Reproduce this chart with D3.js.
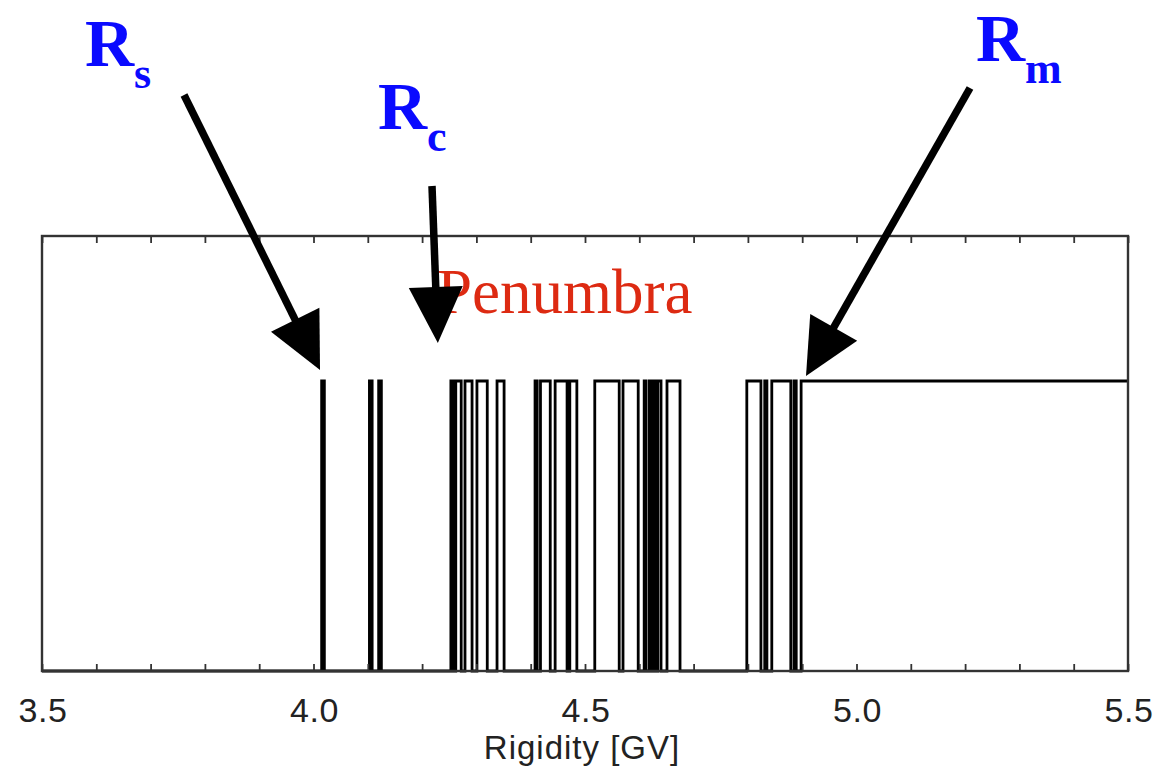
<!DOCTYPE html>
<html>
<head>
<meta charset="utf-8">
<script src="https://cdn.jsdelivr.net/npm/d3@7"></script>
<style>
  html, body { margin: 0; padding: 0; background: #fff; }
  svg { display: block; }
</style>
</head>
<body>
<svg id="chart" width="1156" height="773"></svg>
<script>
// Rigidity axis
const xDomain = [3.5, 5.5];
const tickLabels = [3.5, 4.0, 4.5, 5.0, 5.5];
const minorTicks = d3.range(35, 56).map(d => d / 10);

// Allowed (1) bands of the trajectory scan; everything else is forbidden (0)
const bandStart = [4.015, 4.103, 4.120, 4.253, 4.262, 4.279, 4.301, 4.338,
                   4.408, 4.418, 4.445, 4.472, 4.518, 4.570, 4.609, 4.618, 4.625, 4.634, 4.651,
                   4.798, 4.831, 4.844, 4.885, 4.898];
const bandEnd   = [4.020, 4.108, 4.125, 4.258, 4.272, 4.292, 4.320, 4.351,
                   4.412, 4.436, 4.467, 4.485, 4.563, 4.598, 4.612, 4.621, 4.629, 4.640, 4.675,
                   4.824, 4.835, 4.879, 4.889, 5.5];

// Cutoff markers: lower (Rs), effective (Rc), upper (Rm)
const cutoffNames = ["s", "c", "m"];
const cutoffValues = [4.012, 4.229, 4.907];

const svg = d3.select("#chart");
const margin = { left: 42, right: 28, top: 236, bottom: 102 };
const W = 1156, H = 773;
const x = d3.scaleLinear().domain(xDomain).range([margin.left, W - margin.right]);
const y = d3.scaleLinear().domain([0, 1.5]).range([H - margin.bottom, margin.top]);

// Step series built from the bands
const pts = [[xDomain[0], 0]];
bandStart.forEach((s, i) => {
  pts.push([s, 1]);
  if (bandEnd[i] < xDomain[1]) pts.push([bandEnd[i], 0]);
});
pts.push([xDomain[1], 1]);

const line = d3.line().x(d => x(d[0])).y(d => y(d[1])).curve(d3.curveStepAfter);
svg.append("path")
  .attr("d", line(pts))
  .attr("fill", "none")
  .attr("stroke", "#000")
  .attr("stroke-width", 2.8);

// Frame
const axisColor = "#333";
svg.append("rect")
  .attr("x", x(xDomain[0])).attr("y", y(1.5))
  .attr("width", x(xDomain[1]) - x(xDomain[0]))
  .attr("height", y(0) - y(1.5))
  .attr("fill", "none").attr("stroke", axisColor).attr("stroke-width", 2.4);

// Inward ticks on bottom and top
const bottomAxis = d3.axisBottom(x).tickValues(minorTicks).tickSizeInner(-7).tickSizeOuter(0).tickFormat("");
const topAxis = d3.axisTop(x).tickValues(minorTicks).tickSizeInner(-7).tickSizeOuter(0).tickFormat("");
[[bottomAxis, y(0)], [topAxis, y(1.5)]].forEach(([ax, ty]) => {
  const g = svg.append("g").attr("transform", `translate(0,${ty})`).call(ax);
  g.select(".domain").remove();
  g.selectAll("line").attr("stroke", axisColor).attr("stroke-width", 1.8);
});

// Tick labels
svg.append("g").selectAll("text").data(tickLabels).join("text")
  .attr("x", d => x(d) + 1)
  .attr("y", 722)
  .attr("text-anchor", "middle")
  .attr("font-family", "Liberation Sans, Arial, sans-serif")
  .attr("font-size", 34)
  .attr("letter-spacing", 0.5)
  .attr("fill", "#222")
  .text(d => d3.format(".1f")(d));

svg.append("text")
  .attr("x", 582).attr("y", 759)
  .attr("text-anchor", "middle")
  .attr("font-family", "Liberation Sans, Arial, sans-serif")
  .attr("font-size", 33)
  .attr("letter-spacing", 1)
  .attr("fill", "#222")
  .text("Rigidity [GV]");

// Penumbra label
svg.append("text")
  .attr("x", 437).attr("y", 313)
  .attr("font-family", "Liberation Serif, Times New Roman, serif")
  .attr("font-size", 63)
  .attr("fill", "#dd2a12")
  .text("Penumbra");

// Arrows pointing at the cutoffs
const arrowStart = [[184, 95], [432, 186], [970, 88]];
const arrowTipY = [370, 343, 376];
const headLen = 56, headHalf = 27;
cutoffValues.forEach((v, i) => {
  const [sx, sy] = arrowStart[i];
  const tx = x(v), ty = arrowTipY[i];
  const dx = tx - sx, dy = ty - sy, len = Math.hypot(dx, dy);
  const ux = dx / len, uy = dy / len;
  const bx = tx - ux * headLen, by = ty - uy * headLen;
  svg.append("line")
    .attr("x1", sx).attr("y1", sy).attr("x2", bx + ux * 4).attr("y2", by + uy * 4)
    .attr("stroke", "#000").attr("stroke-width", 7.5);
  svg.append("polygon")
    .attr("points", [[tx, ty], [bx - uy * headHalf, by + ux * headHalf], [bx + uy * headHalf, by - ux * headHalf]].join(" "))
    .attr("fill", "#000");
});

// R labels with subscripts
const labelPos = [[85, 66], [378, 129], [976, 61]];
cutoffNames.forEach((n, i) => {
  const t = svg.append("text")
    .attr("x", labelPos[i][0]).attr("y", labelPos[i][1])
    .attr("font-family", "Liberation Serif, Times New Roman, serif")
    .attr("font-weight", "bold")
    .attr("font-size", 68)
    .attr("fill", "#0a0aff");
  t.append("tspan").text("R");
  t.append("tspan").attr("dy", 22).attr("font-size", 44).text(n);
});
</script>
</body>
</html>
